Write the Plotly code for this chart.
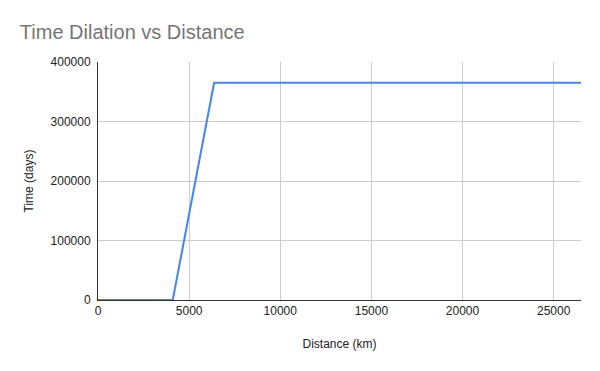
import plotly.graph_objects as go

distance_km = [0, 4100, 6371, 26500]
time_days = [0, 0, 365000, 365000]
x_ticks = [0, 5000, 10000, 15000, 20000, 25000]
y_ticks = [0, 100000, 200000, 300000, 400000]

fig = go.Figure()
fig.add_trace(go.Scatter(x=distance_km, y=time_days, mode="lines",
                         line=dict(color="#4285F4", width=2), showlegend=False))

font = "Liberation Sans, Arial, sans-serif"
fig.update_layout(
    width=600, height=371,
    margin=dict(l=98, r=19, t=62, b=71),
    paper_bgcolor="white", plot_bgcolor="white",
    title=dict(text="Time Dilation vs Distance", x=0.033, xanchor="left",
               y=0.915, yanchor="middle",
               font=dict(family=font, size=20, color="#757575")),
    font=dict(family=font, size=12, color="#222222"),
)
fig.update_xaxes(range=[0, 26500], tickvals=x_ticks, ticktext=[str(v) for v in x_ticks],
                 showgrid=True, gridcolor="#cccccc", gridwidth=1,
                 showline=True, linecolor="#333333", linewidth=1, zeroline=False,
                 ticks="", title=dict(text="Distance (km)", font=dict(size=12, color="#222222"), standoff=22))
fig.update_yaxes(range=[0, 400000], tickvals=y_ticks, ticktext=[str(v) for v in y_ticks],
                 showgrid=True, gridcolor="#cccccc", gridwidth=1,
                 showline=True, linecolor="#333333", linewidth=1, zeroline=False,
                 ticks="", ticklabelstandoff=4,
                 title=dict(text="Time (days)", font=dict(size=12, color="#222222"), standoff=14))
fig.write_html("out.html", config={"displayModeBar": False},
               post_script="document.body.style.margin='0';document.body.style.overflow='hidden';")
